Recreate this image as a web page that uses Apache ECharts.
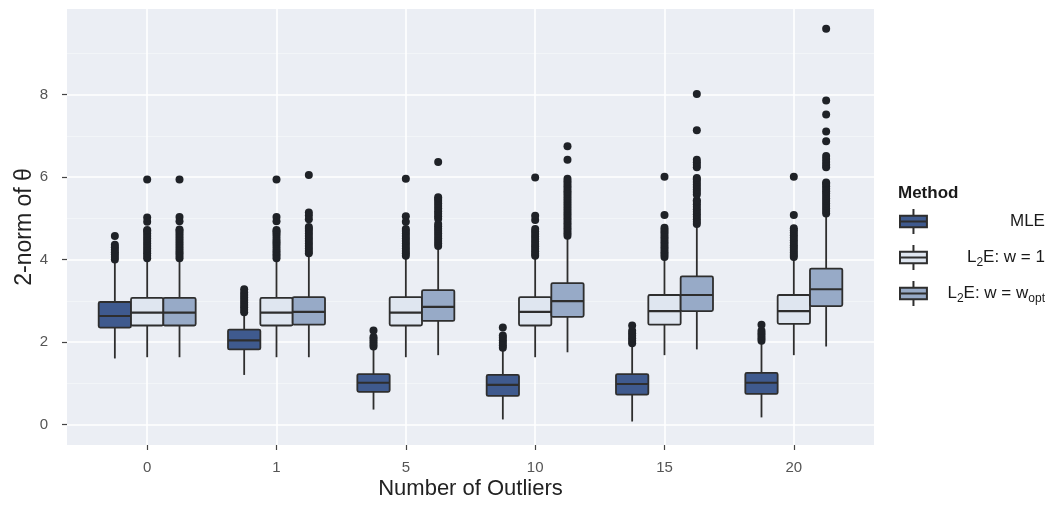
<!DOCTYPE html>
<html><head><meta charset="utf-8">
<script src="https://cdn.jsdelivr.net/npm/echarts@6/dist/echarts.min.js"></script>
<style>html,body{margin:0;padding:0;background:#fff}#c{width:1048px;height:505px}</style>
</head><body><div id="c"></div>
<script>
// ---- data ----
const categories = ['0', '1', '5', '10', '15', '20'];
const seriesNames = ['MLE', 'L2E: w = 1', 'L2E: w = wopt'];
const yTickValues = [0, 2, 4, 6, 8];

// [lower whisker, Q1, median, Q3, upper whisker] per category
const mleStats = [
  [1.60, 2.35, 2.63, 2.97, 3.95],
  [1.20, 1.82, 2.04, 2.30, 2.66],
  [0.36, 0.79, 1.01, 1.22, 1.84],
  [0.12, 0.69, 0.96, 1.20, 1.80],
  [0.07, 0.72, 0.98, 1.22, 1.92],
  [0.17, 0.74, 1.01, 1.25, 1.99]
];
const w1Stats = [
  [1.63, 2.40, 2.71, 3.07, 4.00],
  [1.63, 2.40, 2.71, 3.07, 4.00],
  [1.63, 2.40, 2.71, 3.09, 4.07],
  [1.63, 2.40, 2.73, 3.09, 4.07],
  [1.68, 2.42, 2.75, 3.14, 4.02],
  [1.68, 2.44, 2.75, 3.14, 4.02]
];
const woptStats = [
  [1.63, 2.40, 2.71, 3.07, 4.00],
  [1.63, 2.42, 2.73, 3.09, 4.12],
  [1.68, 2.51, 2.85, 3.26, 4.31],
  [1.75, 2.61, 2.99, 3.43, 4.55],
  [1.82, 2.75, 3.14, 3.59, 4.84],
  [1.89, 2.87, 3.28, 3.78, 5.10]
];

// outliers per category
const mleOutliers = [
  [4.00, 4.06, 4.12, 4.18, 4.24, 4.30, 4.36, 4.57],
  [2.72, 2.78, 2.84, 2.90, 2.96, 3.02, 3.08, 3.14, 3.20, 3.28],
  [1.89, 1.95, 2.01, 2.07, 2.12, 2.28],
  [1.86, 1.92, 1.98, 2.04, 2.10, 2.16, 2.35],
  [1.97, 2.03, 2.09, 2.15, 2.21, 2.27, 2.40],
  [2.03, 2.09, 2.15, 2.21, 2.27, 2.42]
];
const w1Outliers = [
  [4.03, 4.09, 4.15, 4.21, 4.27, 4.33, 4.39, 4.45, 4.51, 4.57, 4.63, 4.69, 4.72, 4.92, 5.02, 5.94],
  [4.03, 4.09, 4.14, 4.20, 4.26, 4.33, 4.39, 4.44, 4.50, 4.57, 4.63, 4.68, 4.72, 4.93, 5.03, 5.94],
  [4.09, 4.15, 4.21, 4.27, 4.33, 4.39, 4.45, 4.51, 4.57, 4.63, 4.69, 4.74, 4.92, 5.05, 5.96],
  [4.09, 4.14, 4.20, 4.26, 4.32, 4.38, 4.44, 4.50, 4.56, 4.62, 4.68, 4.74, 4.96, 5.06, 5.99],
  [4.06, 4.12, 4.18, 4.24, 4.30, 4.36, 4.42, 4.48, 4.54, 4.60, 4.66, 4.72, 4.77, 5.08, 6.01],
  [4.06, 4.11, 4.17, 4.23, 4.29, 4.35, 4.41, 4.47, 4.53, 4.59, 4.65, 4.71, 4.76, 5.08, 6.01]
];
const woptOutliers = [
  [4.03, 4.09, 4.15, 4.21, 4.27, 4.33, 4.39, 4.45, 4.51, 4.57, 4.63, 4.69, 4.73, 4.93, 5.03, 5.94],
  [4.15, 4.21, 4.27, 4.33, 4.39, 4.45, 4.51, 4.57, 4.63, 4.69, 4.75, 4.79, 4.98, 5.07, 5.14, 6.05],
  [4.33, 4.39, 4.45, 4.51, 4.57, 4.63, 4.69, 4.75, 4.81, 4.86, 4.99, 5.05, 5.11, 5.17, 5.24, 5.30, 5.36, 5.42, 5.47, 5.51, 6.37],
  [4.58, 4.64, 4.70, 4.76, 4.82, 4.88, 4.94, 5.00, 5.06, 5.12, 5.18, 5.24, 5.30, 5.36, 5.42, 5.48, 5.54, 5.60, 5.66, 5.72, 5.78, 5.84, 5.90, 5.96, 6.42, 6.75],
  [4.86, 4.92, 4.98, 5.04, 5.10, 5.16, 5.22, 5.28, 5.34, 5.40, 5.44, 5.58, 5.64, 5.70, 5.76, 5.82, 5.88, 5.94, 5.98, 6.24, 6.30, 6.36, 6.42, 7.14, 8.02],
  [5.12, 5.18, 5.24, 5.30, 5.36, 5.42, 5.48, 5.54, 5.60, 5.66, 5.72, 5.78, 5.84, 5.87, 6.24, 6.30, 6.37, 6.44, 6.51, 6.87, 7.11, 7.52, 7.86, 9.60]
];

// ---- styling / layout ----
const FONT = '"Liberation Sans", Arial, Helvetica, sans-serif';
const fills = ['#3f5a8e', '#dfe6f0', '#97aac7'];
const STROKE = '#2e2e2e';
const dodge = [-0.25, 0, 0.25];
const BOXW = 0.25;
const LW = 1.8;

function boxSeries(idx, stats) {
  return {
    type: 'custom',
    name: seriesNames[idx],
    data: stats.map((s, i) => [i].concat(s)),
    encode: { x: 0, y: [1, 2, 3, 4, 5] },
    itemStyle: { color: fills[idx], borderColor: STROKE },
    z: 3,
    silent: true,
    renderItem: function (params, api) {
      const x = api.value(0) + dodge[idx];
      const pLo = api.coord([x, api.value(1)]);
      const pQ1 = api.coord([x, api.value(2)]);
      const pMed = api.coord([x, api.value(3)]);
      const pQ3 = api.coord([x, api.value(4)]);
      const pHi = api.coord([x, api.value(5)]);
      const w = api.size([BOXW, 0])[0];
      const cx = pMed[0];
      const l = cx - w / 2;
      return {
        type: 'group',
        children: [
          { type: 'line', shape: { x1: cx, y1: pHi[1], x2: cx, y2: pQ3[1] }, style: { stroke: STROKE, lineWidth: LW } },
          { type: 'line', shape: { x1: cx, y1: pQ1[1], x2: cx, y2: pLo[1] }, style: { stroke: STROKE, lineWidth: LW } },
          { type: 'rect', shape: { x: l, y: pQ3[1], width: w, height: pQ1[1] - pQ3[1], r: 1.5 },
            style: { fill: fills[idx], stroke: STROKE, lineWidth: LW } },
          { type: 'line', shape: { x1: l, y1: pMed[1], x2: l + w, y2: pMed[1] }, style: { stroke: STROKE, lineWidth: 2.2 } }
        ]
      };
    }
  };
}

function outlierSeries(idx, groups) {
  const data = [];
  groups.forEach((vals, i) => vals.forEach(v => data.push([i + dodge[idx], v])));
  return {
    type: 'scatter',
    name: seriesNames[idx] + ' outliers',
    data: data,
    symbolSize: 8,
    itemStyle: { color: '#1f2227', opacity: 1 },
    z: 4,
    silent: true
  };
}

// legend labels with subscripts, right-aligned via measured padding
const ctx = document.createElement('canvas').getContext('2d');
const LEG_FS = 17, SUB_FS = 12;
function tw(t, fs) { ctx.font = fs + 'px ' + FONT; return ctx.measureText(t).width; }
function parts(name) {
  if (name === 'MLE') return [['n', 'MLE']];
  if (name === 'L2E: w = 1') return [['n', 'L'], ['s', '2'], ['n', 'E: w = 1']];
  return [['n', 'L'], ['s', '2'], ['n', 'E: w = w'], ['s', 'opt']];
}
const LABEL_W = 113;
const rich = {
  n: { fontSize: LEG_FS, fontFamily: FONT, color: '#1a1a1a', lineHeight: 22 },
  s: { fontSize: SUB_FS, fontFamily: FONT, color: '#1a1a1a', lineHeight: 13, verticalAlign: 'bottom' }
};
const labelStr = {};
seriesNames.forEach((nm, i) => {
  const ps = parts(nm);
  let w = 0;
  ps.forEach(p => { w += tw(p[1], p[0] === 'n' ? LEG_FS : SUB_FS); });
  const pad = Math.max(0, LABEL_W - w);
  rich['p' + i] = { width: pad, fontSize: LEG_FS, lineHeight: 22 };
  labelStr[nm] = '{p' + i + '| }' + ps.map(p => '{' + p[0] + '|' + p[1] + '}').join('');
});

const GLYPH = 'path://M1,7 L1,19 L29,19 L29,7 Z M1,13 L29,13 M15,0 L15,7 M15,19 L15,26';

const chart = echarts.init(document.getElementById('c'), null, { renderer: 'canvas' });
chart.setOption({
  animation: false,
  backgroundColor: '#ffffff',
  textStyle: { fontFamily: FONT },
  title: {
    text: 'Method', left: 893, top: 180,
    textStyle: { fontSize: 17, fontWeight: 'bold', color: '#1a1a1a', fontFamily: FONT }
  },
  legend: {
    orient: 'vertical', left: 894, top: 203,
    itemWidth: 27, itemHeight: 25, itemGap: 9,
    selectedMode: false,
    data: seriesNames.map((n, i) => ({
      name: n, icon: GLYPH,
      itemStyle: { color: fills[i], borderColor: STROKE, borderWidth: 2 }
    })),
    formatter: name => labelStr[name],
    textStyle: { rich: rich, fontFamily: FONT }
  },
  grid: {
    left: 67, right: 174, top: 9, bottom: 54,
    show: true, backgroundColor: '#ebeef4', borderWidth: 0
  },
  xAxis: {
    type: 'value', min: -0.62, max: 5.62,
    axisLine: { show: false, onZero: false },
    axisTick: { show: true, customValues: [0, 1, 2, 3, 4, 5], length: 5, lineStyle: { color: '#444', width: 1.2 } },
    axisLabel: {
      customValues: [0, 1, 2, 3, 4, 5],
      formatter: v => categories[Math.round(v)],
      color: '#555', fontSize: 15, margin: 15, fontFamily: FONT
    },
    splitLine: { show: true, lineStyle: { color: '#ffffff', width: 1.6 } },
    name: 'Number of Outliers', nameLocation: 'middle', nameGap: 33, nameMoveOverlap: false,
    nameTextStyle: { fontSize: 22, color: '#222', fontFamily: FONT }
  },
  yAxis: {
    type: 'value', min: -0.5, max: 10.08,
    axisLine: { show: false, onZero: false },
    axisTick: { show: true, customValues: yTickValues, length: 5, lineStyle: { color: '#444', width: 1.2 } },
    axisLabel: {
      customValues: yTickValues,
      color: '#555', fontSize: 15, margin: 19, fontFamily: FONT
    },
    splitLine: { show: true, lineStyle: { color: '#ffffff', width: 1.6 } },
    minorTick: { show: false, splitNumber: 2 },
    minorSplitLine: { show: true, lineStyle: { color: '#f4f6f9', width: 0.8 } },
    name: '2-norm of θ', nameLocation: 'middle', nameGap: 31, nameMoveOverlap: false,
    nameTextStyle: { fontSize: 23, color: '#222', fontFamily: FONT }
  },
  series: [
    boxSeries(0, mleStats), boxSeries(1, w1Stats), boxSeries(2, woptStats),
    outlierSeries(0, mleOutliers), outlierSeries(1, w1Outliers), outlierSeries(2, woptOutliers)
  ]
});
</script></body></html>
